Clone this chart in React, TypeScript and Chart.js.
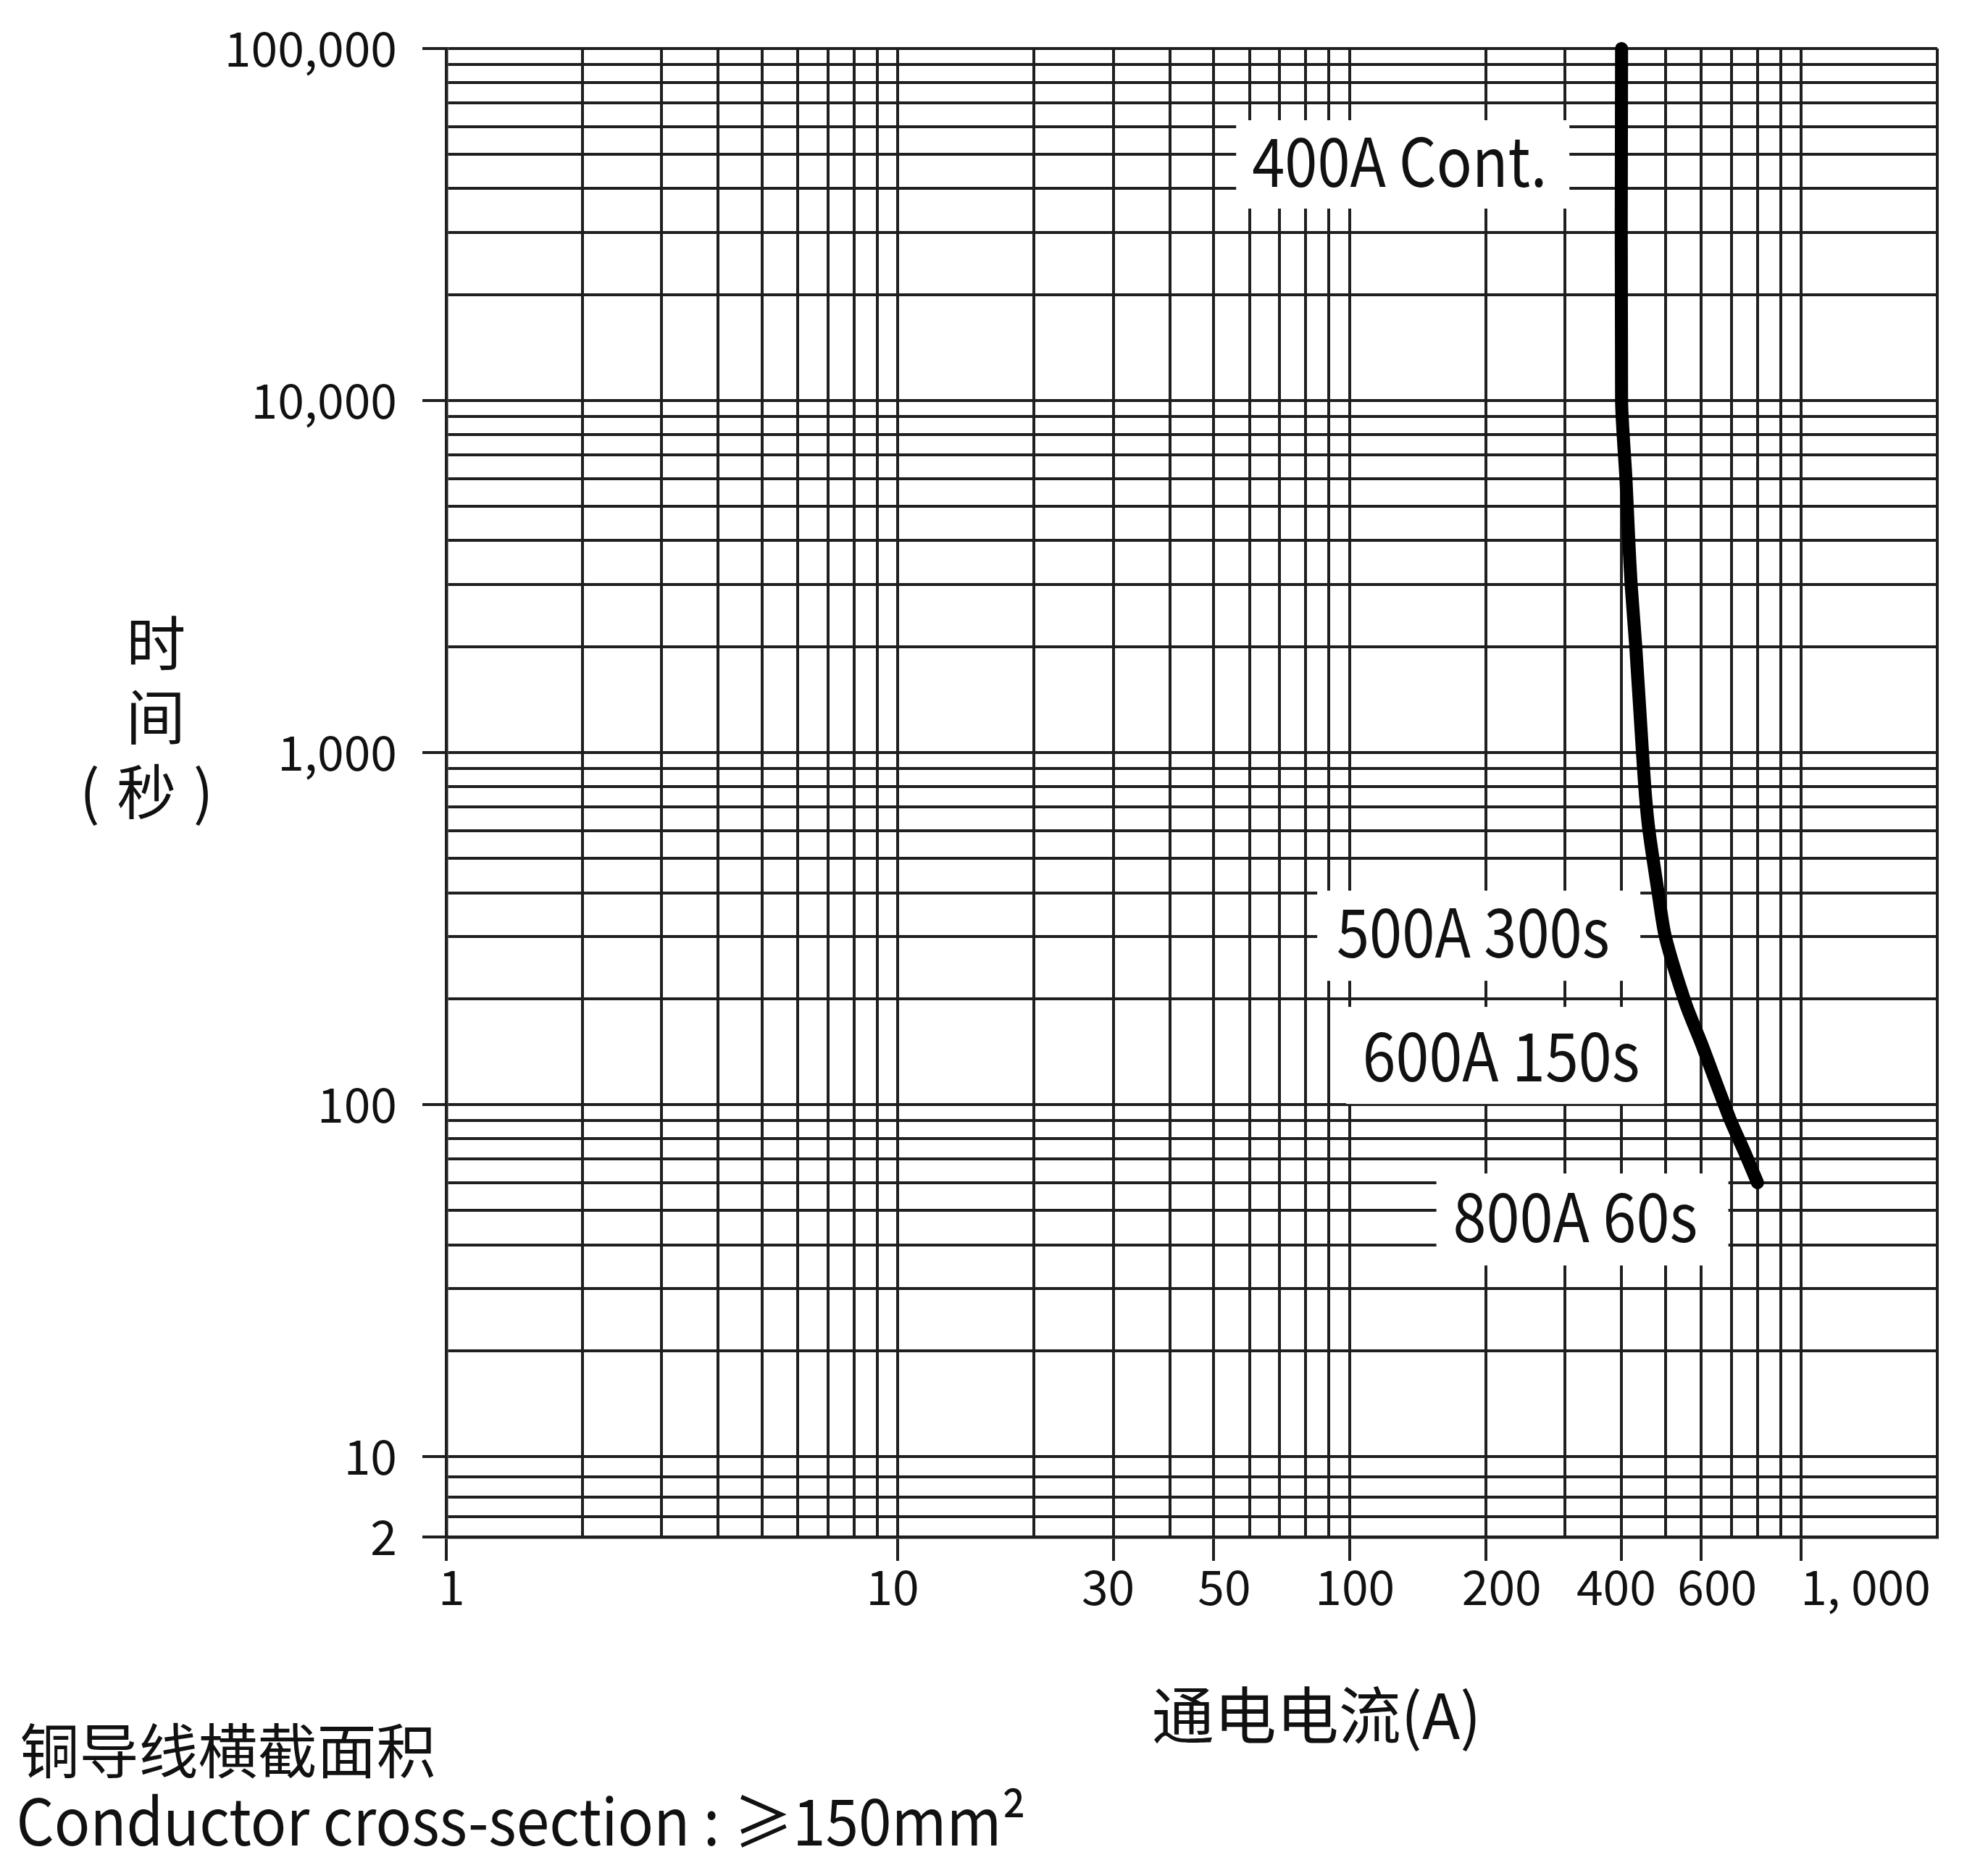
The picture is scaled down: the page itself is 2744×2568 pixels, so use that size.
import React, { useEffect, useRef } from 'react';
import { Chart, registerables, LinearScale } from 'chart.js';

Chart.register(...registerables);

// ---------------- data ----------------
const CURRENT_A = [400, 400, 409, 415, 420, 430, 445, 452, 460, 482, 500, 555, 600, 695, 750, 800];
const TIME_S = [100000, 10000, 6000, 4000, 3000, 2000, 1000, 750, 600, 400, 300, 193, 150, 91, 73, 60];

const X_TICK_VALUES = [1, 10, 30, 50, 100, 200, 400, 600, 1000];
const X_TICK_LABELS = ['1', '10', '30', '50', '100', '200', '400', '600', '1, 000'];
const X_GRID_VALUES = [1, 2, 3, 4, 5, 6, 7, 8, 9, 10, 20, 30, 40, 50, 60, 70, 80, 90, 100, 200, 300, 400, 500, 600, 700, 800, 900, 1000, 2000];

const Y_TICK_VALUES = [2, 10, 100, 1000, 10000, 100000];
const Y_TICK_LABELS = ['2', '10', '100', '1,000', '10,000', '100,000'];
const Y_GRID_VALUES = [2, 4, 6, 8, 10, 20, 30, 40, 50, 60, 70, 80, 90, 100, 200, 300, 400, 500, 600, 700, 800, 900, 1000, 2000, 3000, 4000, 5000, 6000, 7000, 8000, 9000, 10000, 20000, 30000, 40000, 50000, 60000, 70000, 80000, 90000, 100000];

const ANNOTATION_TEXTS = ['400A Cont.', '500A 300s', '600A 150s', '800A 60s'];
const ANNOTATION_CURRENT = [400, 500, 600, 800];
const ANNOTATION_TIME = [100000, 300, 150, 60];

const X_TITLE = '通电电流(A)';
const Y_TITLE_LINES = ['时', '间', '( \u200a秒\u200a )'];
const NOTE_CN = '铜导线横截面积';
const NOTE_EN = 'Conductor cross-section : ≥150mm²';

// ---------------- styles / layout ----------------
const X_MIN = 1, X_MAX = 2000;
const Y_MIN = 2, Y_MAX = 100000, Y_BREAK = 10, Y_LOW_SPAN = 0.228;
const FONT = '"Noto Sans CJK SC", "Noto Sans", sans-serif';
const TEXT = '#111111';
const GRID = '#1f1f1f';
const GRID_W = 4;
const TICK_SIZE = 66;
const ANN_SIZE = 93;
// horizontal offset (px) of each x tick label from its tick; null = label starts at tick
const X_LABEL_SHIFT: (number | null)[] = [7, -4, -6, 18, 11, 21, -8, 20, null];

const ANNOTATION_LAYOUT = [
  { boxDx: -532, boxDy: 99, boxW: 460, boxH: 122, textDx: -308.6, textDy: 157.2, textW: 401 },
  { boxDx: -480.5, boxDy: -63.6, boxW: 446, boxH: 124.5, textDx: -265.5, textDy: -4.6, textW: 373 },
  { boxDx: -490, boxDy: -49.4, boxW: 438, boxH: 134, textDx: -274.9, textDy: 20.1, textW: 376 },
  { boxDx: -443.3, boxDy: -12.8, boxW: 403, boxH: 127, textDx: -250.8, textDy: 48.7, textW: 332 },
];

const Y_TITLE_POS = [
  { x: 216.8, y: 887.5 },
  { x: 214.8, y: 990 },
  { x: 202.3, y: 1097 },
];

// ---------------- custom split-log scale ----------------
function yTransform(v: number) {
  const b = Math.log10(Y_BREAK);
  return v >= Y_BREAK ? Math.log10(v) : b - ((Y_BREAK - v) / (Y_BREAK - Y_MIN)) * Y_LOW_SPAN;
}
function yInverse(t: number) {
  const b = Math.log10(Y_BREAK);
  return t >= b ? Math.pow(10, t) : Y_BREAK - ((b - t) / Y_LOW_SPAN) * (Y_BREAK - Y_MIN);
}

class SplitLogScale extends LinearScale {
  static id = 'splitLog';
  getPixelForValue(value: any) {
    if (value === null || value === undefined || isNaN(value)) return NaN;
    const a = yTransform(this.min), b = yTransform(this.max);
    return this.getPixelForDecimal((yTransform(value) - a) / (b - a));
  }
  getValueForPixel(pixel: number) {
    const a = yTransform(this.min), b = yTransform(this.max);
    return yInverse(a + this.getDecimalForPixel(pixel) * (b - a));
  }
}
Chart.register(SplitLogScale as any);

// ---------------- helpers ----------------
function shiftedLabel(label: string, shift: number | null) {
  const c = document.createElement('canvas').getContext('2d')!;
  c.font = `${TICK_SIZE}px ${FONT}`;
  const sp = c.measureText(' ').width;
  if (shift === null) {
    const n = Math.round(c.measureText(label).width / sp);
    return ' '.repeat(n) + label;
  }
  const n = Math.round((2 * Math.abs(shift)) / sp);
  return shift >= 0 ? ' '.repeat(n) + label : label + ' '.repeat(n);
}

function drawInk(
  ctx: CanvasRenderingContext2D, text: string, font: string, x: number, y: number,
  o: { align?: 'center' | 'left'; vAlign?: 'center' | 'baseline'; width?: number; color?: string }
) {
  ctx.save();
  ctx.font = font;
  ctx.textAlign = 'left';
  ctx.textBaseline = 'alphabetic';
  const m = ctx.measureText(text);
  const inkL = -m.actualBoundingBoxLeft;
  const inkR = m.actualBoundingBoxRight;
  const s = o.width ? o.width / (inkR - inkL) : 1;
  const ox = o.align === 'left' ? x - s * inkL : x - (s * (inkL + inkR)) / 2;
  const oy = o.vAlign === 'baseline' ? y : y + (m.actualBoundingBoxAscent - m.actualBoundingBoxDescent) / 2;
  ctx.translate(ox, oy);
  ctx.scale(s, 1);
  ctx.fillStyle = o.color || TEXT;
  ctx.fillText(text, 0, 0);
  ctx.restore();
}

const overlayPlugin = {
  id: 'overlay',
  beforeDatasetsDraw(chart: any) {
    const { ctx, scales } = chart;
    const xs = scales.x, ys = scales.y;
    ANNOTATION_TEXTS.forEach((t, i) => {
      const ax = xs.getPixelForValue(ANNOTATION_CURRENT[i]);
      const ay = ys.getPixelForValue(ANNOTATION_TIME[i]);
      const L = ANNOTATION_LAYOUT[i];
      ctx.save();
      ctx.fillStyle = '#ffffff';
      ctx.fillRect(ax + L.boxDx, ay + L.boxDy, L.boxW, L.boxH);
      ctx.restore();
      drawInk(ctx, t, `${ANN_SIZE}px ${FONT}`, ax + L.textDx, ay + L.textDy, { width: L.textW });
    });
  },
  afterDraw(chart: any) {
    const { ctx } = chart;
    Y_TITLE_LINES.forEach((t, i) => {
      drawInk(ctx, t, `82px ${FONT}`, Y_TITLE_POS[i].x, Y_TITLE_POS[i].y, {});
    });
    drawInk(ctx, X_TITLE, `86px ${FONT}`, 1815, 2372.5, {});
    drawInk(ctx, NOTE_CN, `82px ${FONT}`, 29.5, 2417, { align: 'left' });
    drawInk(ctx, NOTE_EN, `89px ${FONT}`, 27, 2548, { align: 'left', vAlign: 'baseline', width: 1385 });
  },
};

export default function App() {
  const ref = useRef<HTMLCanvasElement>(null);

  useEffect(() => {
    const canvas = ref.current!;
    const xLabels = X_TICK_LABELS.map((l, i) => shiftedLabel(l, X_LABEL_SHIFT[i]));
    const xLabel = (v: number) => {
      const i = X_TICK_VALUES.indexOf(v);
      return i < 0 ? '' : xLabels[i];
    };
    const yLabel = (v: number) => {
      const i = Y_TICK_VALUES.indexOf(v);
      return i < 0 ? '' : Y_TICK_LABELS[i];
    };

    const chart = new Chart(canvas, {
      type: 'scatter',
      data: {
        datasets: [
          {
            data: CURRENT_A.map((a, i) => ({ x: a, y: TIME_S[i] })),
            showLine: true,
            borderColor: '#000000',
            borderWidth: 18,
            borderCapStyle: 'round',
            borderJoinStyle: 'round',
            pointRadius: 0,
            tension: 0.25,
            clip: false as any,
          } as any,
        ],
      },
      options: {
        responsive: false,
        maintainAspectRatio: false,
        devicePixelRatio: 1,
        animation: false,
        layout: { padding: { left: 0, top: 67, right: 70, bottom: 0 } },
        plugins: { legend: { display: false }, tooltip: { enabled: false } },
        scales: {
          x: {
            type: 'logarithmic',
            min: X_MIN,
            max: X_MAX,
            afterBuildTicks: (s: any) => {
              s.ticks = X_GRID_VALUES.map((v) => ({ value: v }));
            },
            afterFit: (s: any) => {
              s.height = 446;
              s.paddingLeft = 0;
              s.paddingRight = 0;
            },
            grid: {
              color: GRID,
              lineWidth: GRID_W,
              drawTicks: true,
              tickLength: 33,
              tickWidth: GRID_W,
              tickColor: (c: any) => (c.tick && X_TICK_VALUES.includes(c.tick.value) ? GRID : 'rgba(0,0,0,0)'),
            },
            border: { display: true, color: GRID, width: 4.5 },
            ticks: {
              autoSkip: false,
              maxRotation: 0,
              minRotation: 0,
              padding: -4,
              color: TEXT,
              font: { family: FONT, size: TICK_SIZE },
              callback: (v: any) => xLabel(Number(v)),
            },
          },
          y: {
            type: 'splitLog' as any,
            min: Y_MIN,
            max: Y_MAX,
            afterBuildTicks: (s: any) => {
              s.ticks = Y_GRID_VALUES.map((v) => ({ value: v }));
            },
            afterFit: (s: any) => {
              s.width = 616;
              s.paddingTop = 0;
              s.paddingBottom = 0;
            },
            grid: {
              color: GRID,
              lineWidth: GRID_W,
              drawTicks: true,
              tickLength: 33,
              tickWidth: GRID_W,
              tickColor: (c: any) => (c.tick && Y_TICK_VALUES.includes(c.tick.value) ? GRID : 'rgba(0,0,0,0)'),
            },
            border: { display: true, color: GRID, width: 4.5 },
            ticks: {
              autoSkip: false,
              padding: 35,
              color: TEXT,
              font: { family: FONT, size: TICK_SIZE },
              callback: (v: any) => yLabel(Number(v)),
            },
          } as any,
        },
      },
      plugins: [overlayPlugin as any],
    });
    return () => chart.destroy();
  }, []);

  return (
    <div style={{ position: 'absolute', left: 0, top: 0, width: 2744, height: 2568, background: '#ffffff' }}>
      <canvas ref={ref} width={2744} height={2568} style={{ display: 'block', width: 2744, height: 2568 }} />
    </div>
  );
}
